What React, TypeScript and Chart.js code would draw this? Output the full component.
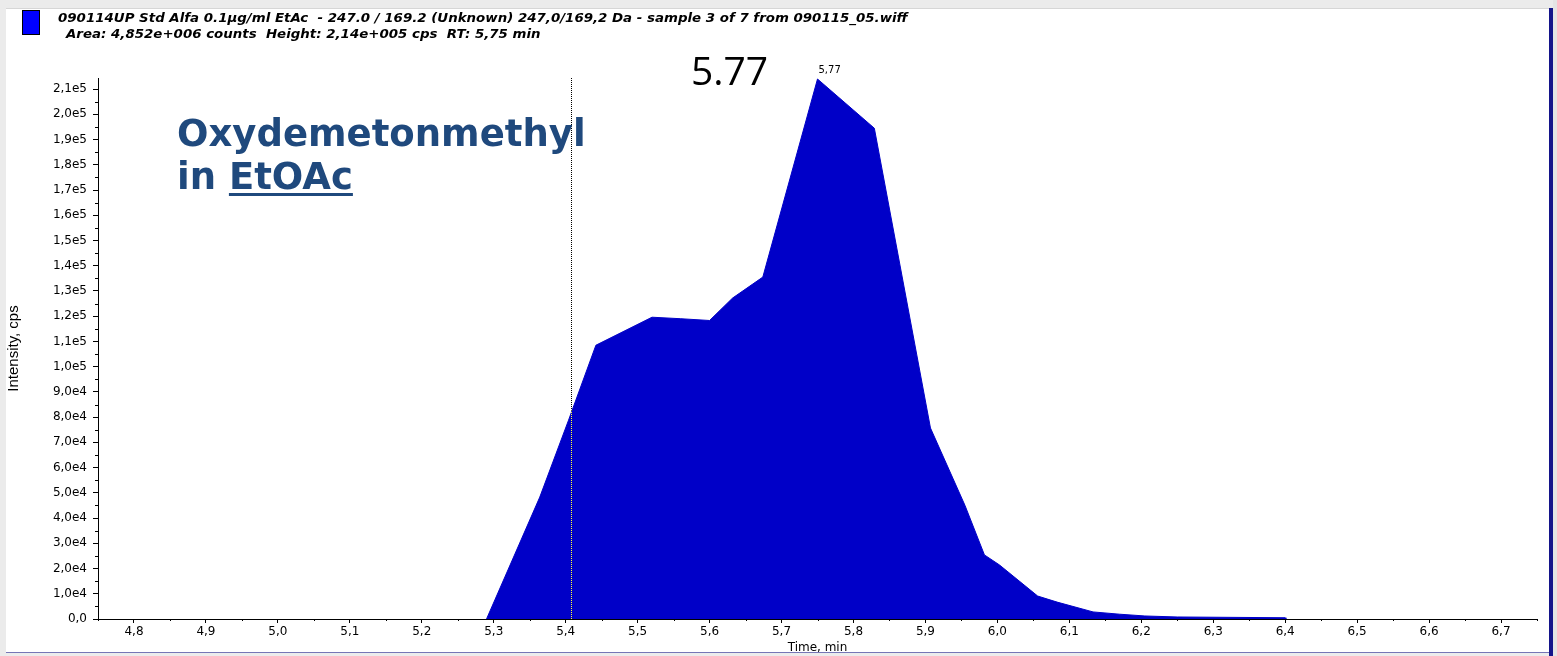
import React, { useEffect, useRef } from "react";
import { Chart, registerables } from "chart.js";

Chart.register(...registerables);

// Chromatogram trace: retention time (min) and intensity (cps)
const times = [5.29, 5.364, 5.404, 5.442, 5.52, 5.56, 5.60, 5.632, 5.674, 5.75, 5.829, 5.907, 5.955, 5.982, 6.003, 6.056, 6.083, 6.133, 6.17, 6.205, 6.25, 6.40, 6.401];
const intensities = [0, 48300, 78800, 108500, 119600, 119000, 118300, 127200, 135500, 214000, 194500, 75700, 45000, 25400, 21400, 9100, 6700, 2800, 1900, 1200, 800, 500, 0];

// axis ranges and tick positions
const xMin = 4.75;
const xMax = 6.75;
const yMax = 214400;
const xTicks = [4.8, 4.9, 5.0, 5.1, 5.2, 5.3, 5.4, 5.5, 5.6, 5.7, 5.8, 5.9, 6.0, 6.1, 6.2, 6.3, 6.4, 6.5, 6.6, 6.7];
const yTicks = [0, 10000, 20000, 30000, 40000, 50000, 60000, 70000, 80000, 90000, 100000, 110000, 120000, 130000, 140000, 150000, 160000, 170000, 180000, 190000, 200000, 210000];
const markerTime = 5.407;

const headerLine1 = "090114UP Std Alfa 0.1µg/ml EtAc  - 247.0 / 169.2 (Unknown) 247,0/169,2 Da - sample 3 of 7 from 090115_05.wiff";
const headerLine2 = "Area: 4,852e+006 counts  Height: 2,14e+005 cps  RT: 5,75 min";
const peakLabel = "5,77";
const bigLabel = "5.77";
const compoundLine1 = "Oxydemetonmethyl";
const compoundLine2a = "in ";
const compoundLine2b = "EtOAc";

const W = 1557;
const H = 656;

const fmtY = (v: number) => {
  if (Math.abs(v) < 1e-6) return "0,0";
  const e = Math.floor(Math.log10(v) + 1e-9);
  const m = v / Math.pow(10, e);
  return m.toFixed(1).replace(".", ",") + "e" + e;
};

const frame = {
  id: "frame",
  beforeDraw(chart: any) {
    const ctx = chart.ctx;
    ctx.save();
    ctx.fillStyle = "#ffffff";
    ctx.fillRect(0, 0, W, H);
    // window chrome around the plot
    ctx.fillStyle = "#ebebeb";
    ctx.fillRect(0, 0, W, 8);
    ctx.fillRect(0, 0, 6, H);
    ctx.fillStyle = "#d6d6d6";
    ctx.fillRect(6, 8, W - 6, 1);
    ctx.fillStyle = "#14148a";
    ctx.fillRect(1549, 8, 4, H - 8);
    ctx.fillStyle = "#e4e4e4";
    ctx.fillRect(1553, 0, 4, H);
    ctx.fillStyle = "#7676b6";
    ctx.fillRect(6, 652, 1543, 1);
    ctx.fillStyle = "#ececec";
    ctx.fillRect(6, 653, 1543, 3);
    ctx.restore();
  },
  afterDatasetsDraw(chart: any) {
    const ctx = chart.ctx;
    const xs = chart.scales.x;
    const ys = chart.scales.y;
    const area = chart.chartArea;
    ctx.save();
    // dotted marker line, inverted over the filled trace
    const mx = Math.round(xs.getPixelForValue(markerTime)) + 0.5;
    ctx.globalCompositeOperation = "difference";
    ctx.strokeStyle = "#ffffff";
    ctx.lineWidth = 1;
    ctx.setLineDash([1, 1]);
    ctx.beginPath();
    ctx.moveTo(mx, area.top);
    ctx.lineTo(mx, area.bottom);
    ctx.stroke();
    ctx.restore();

    ctx.save();
    ctx.strokeStyle = "#000";
    ctx.lineWidth = 1;
    ctx.beginPath();
    // minor ticks half-way between the labelled ones
    for (let i = 0; i < yTicks.length; i++) {
      const v = yTicks[i] + 5000;
      if (v > yMax) continue;
      const py = Math.round(ys.getPixelForValue(v)) + 0.5;
      ctx.moveTo(area.left - 3, py);
      ctx.lineTo(area.left, py);
    }
    const minorX = [xTicks[0] - 0.05, ...xTicks.map((t) => t + 0.05)];
    for (const t of minorX) {
      if (t < xMin || t > xMax + 1e-6) continue;
      const px = Math.round(xs.getPixelForValue(t)) + 0.5;
      ctx.moveTo(px, area.bottom);
      ctx.lineTo(px, area.bottom + 2);
    }
    ctx.stroke();

    // apex label
    let apex = 0;
    for (let i = 1; i < intensities.length; i++) if (intensities[i] > intensities[apex]) apex = i;
    const ax = xs.getPixelForValue(times[apex]);
    const ay = ys.getPixelForValue(intensities[apex]);
    ctx.fillStyle = "#000";
    ctx.font = '10px "DejaVu Sans", sans-serif';
    ctx.textAlign = "left";
    ctx.textBaseline = "alphabetic";
    ctx.fillText(peakLabel, ax + 1, ay - 6);
    ctx.restore();
  },
  afterDraw(chart: any) {
    const ctx = chart.ctx;
    ctx.save();
    // legend swatch
    ctx.fillStyle = "#0000ff";
    ctx.fillRect(23, 11, 16, 23);
    ctx.strokeStyle = "#000";
    ctx.lineWidth = 1;
    ctx.strokeRect(22.5, 10.5, 17, 24);

    ctx.fillStyle = "#000";
    ctx.font = 'italic bold 12px "DejaVu Sans", Verdana, sans-serif';
    ctx.textBaseline = "alphabetic";
    ctx.textAlign = "left";
    const drawWide = (s: string, x: number, y: number) => {
      ctx.save();
      ctx.translate(x, y);
      ctx.scale(1.114, 1);
      ctx.fillText(s, 0, 0);
      ctx.restore();
    };
    drawWide(headerLine1, 58, 22);
    drawWide(headerLine2, 66, 38);

    // retention time callout
    ctx.font = '39px "Open Sans", sans-serif';
    ctx.fillText(bigLabel, 691, 85);

    // compound name
    ctx.fillStyle = "#1f497d";
    ctx.font = 'bold 37px "DejaVu Sans", Verdana, sans-serif';
    ctx.fillText(compoundLine1, 177, 146);
    ctx.fillText(compoundLine2a, 177, 189);
    const w1 = ctx.measureText(compoundLine2a).width;
    ctx.fillText(compoundLine2b, 177 + w1, 189);
    const w2 = ctx.measureText(compoundLine2b).width;
    ctx.fillRect(177 + w1, 193, w2, 3);
    ctx.restore();
  },
};

export default function App() {
  const ref = useRef<HTMLCanvasElement | null>(null);

  useEffect(() => {
    if (!ref.current) return;
    const points = times.map((t, i) => ({ x: t, y: intensities[i] }));
    const tickFont = { family: '"DejaVu Sans", Verdana, sans-serif', size: 12 };
    const chart = new Chart(ref.current, {
      type: "line",
      data: {
        datasets: [
          {
            data: points,
            borderColor: "rgb(0,0,200)",
            backgroundColor: "rgb(0,0,200)",
            borderWidth: 1,
            fill: "origin",
            pointRadius: 0,
            tension: 0,
          },
        ],
      },
      plugins: [frame],
      options: {
        animation: false,
        responsive: false,
        devicePixelRatio: 1,
        layout: { padding: { top: 78, right: 20, left: 0, bottom: 0 } },
        plugins: { legend: { display: false }, tooltip: { enabled: false } },
        scales: {
          x: {
            type: "linear",
            min: xMin,
            max: xMax,
            afterBuildTicks: (s: any) => {
              s.ticks = xTicks.map((v) => ({ value: v }));
            },
            afterFit: (s: any) => {
              s.height = 37;
            },
            ticks: {
              color: "#000",
              font: tickFont,
              padding: 2,
              maxRotation: 0,
              autoSkip: false,
              callback: (v: any) => Number(v).toFixed(1).replace(".", ","),
            },
            grid: { drawOnChartArea: false, drawTicks: true, tickLength: 4, tickColor: "#000" },
            border: { display: true, color: "#000", width: 1 },
            title: {
              display: true,
              text: "Time, min",
              color: "#000",
              font: { family: '"DejaVu Sans", Verdana, sans-serif', size: 12 },
              padding: { top: 0, bottom: 1 },
            },
          },
          y: {
            type: "linear",
            min: 0,
            max: yMax,
            afterBuildTicks: (s: any) => {
              s.ticks = yTicks.map((v) => ({ value: v }));
            },
            afterFit: (s: any) => {
              s.width = 98;
            },
            ticks: {
              color: "#000",
              font: tickFont,
              padding: 6,
              autoSkip: false,
              callback: (v: any) => fmtY(Number(v)),
            },
            grid: { drawOnChartArea: false, drawTicks: true, tickLength: 5, tickColor: "#000" },
            border: { display: true, color: "#000", width: 1 },
            title: {
              display: true,
              text: "Intensity, cps",
              color: "#000",
              font: { family: '"Liberation Sans", Arial, sans-serif', size: 15 },
              padding: { top: 5, bottom: 0 },
            },
          },
        },
      },
    } as any);
    return () => chart.destroy();
  }, []);

  return (
    <div style={{ position: "absolute", left: 0, top: 0, width: W, height: H }}>
      <canvas ref={ref} width={W} height={H} style={{ display: "block" }} />
    </div>
  );
}
